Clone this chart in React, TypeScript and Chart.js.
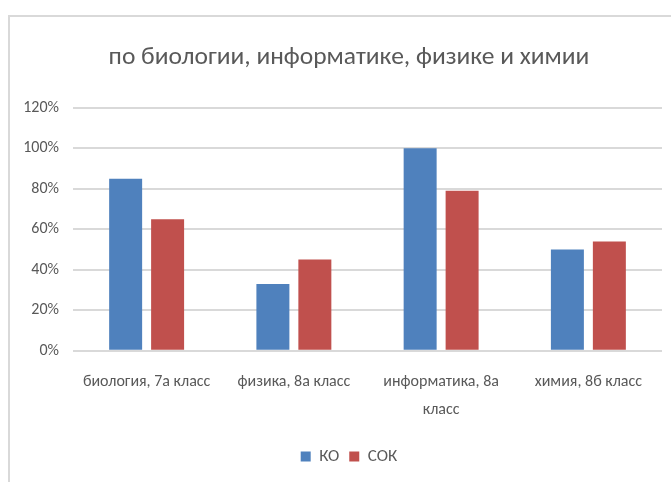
import React, { useEffect, useRef } from "react";
import { Chart, registerables } from "chart.js";

Chart.register(...registerables);

const titleText = "по биологии, информатике, физике и химии";
const categories: (string | string[])[] = [
  "биология, 7а класс",
  "физика, 8а класс",
  ["информатика, 8а", "класс"],
  "химия, 8б класс",
];
const seriesNames = ["КО", "СОК"];
const koValues = [0.85, 0.33, 1.0, 0.5];
const sokValues = [0.65, 0.45, 0.79, 0.54];
const yTicks = [0, 0.2, 0.4, 0.6, 0.8, 1.0, 1.2];

const FONT = "Carlito, 'Liberation Sans Narrow', 'DejaVu Sans Condensed', sans-serif";
const TEXT = "#595959";
const GRID = "#d9d9d9";

// shifts the title and legend boxes so they are centred on the whole chart frame
const centerShift = {
  id: "centerShift",
  afterLayout(chart: any) {
    const dx = 18;
    [chart.titleBlock, chart.legend].forEach((b: any) => {
      if (b) {
        b.left += dx;
        b.right += dx;
      }
    });
  },
};

export default function App() {
  const ref = useRef<HTMLCanvasElement | null>(null);

  useEffect(() => {
    if (!ref.current) return;
    const chart = new Chart(ref.current, {
      type: "bar",
      data: {
        labels: categories,
        datasets: [
          { label: seriesNames[0], data: koValues, backgroundColor: "#4F81BD", borderWidth: 0 },
          { label: seriesNames[1], data: sokValues, backgroundColor: "#C0504D", borderWidth: 0 },
        ],
      },
      plugins: [centerShift],
      options: {
        responsive: false,
        animation: false,
        devicePixelRatio: 1,
        datasets: { bar: { categoryPercentage: 0.57, barPercentage: 0.786 } },
        layout: { padding: { left: 0, right: 9, top: 0, bottom: 7 } },
        plugins: {
          title: {
            display: true,
            text: titleText,
            color: TEXT,
            font: { family: FONT, size: 25.5, weight: "normal" },
            padding: { top: 42.7, bottom: 34.5 },
          },
          legend: {
            display: true,
            position: "bottom",
            labels: {
              color: TEXT,
              font: { family: FONT, size: 17 },
              boxWidth: 10,
              boxHeight: 10,
              padding: 10,
            },
          },
          tooltip: { enabled: false },
        },
        scales: {
          x: {
            grid: { display: false, drawTicks: false },
            border: { display: false },
            ticks: {
              color: TEXT,
              font: { family: FONT, size: 16, lineHeight: 1.7 },
              padding: 18,
              maxRotation: 0,
              autoSkip: false,
            },
            afterFit: (scale: any) => {
              scale.height = 87.3;
            },
          },
          y: {
            min: 0,
            max: 1.2,
            grid: { color: GRID, lineWidth: 2, drawTicks: false },
            border: { display: false },
            afterBuildTicks: (scale: any) => {
              scale.ticks = yTicks.map((v) => ({ value: v }));
            },
            ticks: {
              color: TEXT,
              font: { family: FONT, size: 16 },
              padding: 14,
              callback: (v: any) => Math.round(Number(v) * 100) + "%",
            },
            afterFit: (scale: any) => {
              scale.width = 73;
            },
          },
        },
      },
    });
    return () => chart.destroy();
  }, []);

  return (
    <>
      <div
        style={{
          position: "fixed",
          left: 8,
          top: 15,
          right: 0,
          bottom: 0,
          borderTop: `2px solid ${GRID}`,
          borderLeft: `2px solid ${GRID}`,
        }}
      />
      <canvas
        ref={ref}
        width={671}
        height={482}
        style={{ position: "fixed", left: 0, top: 0, width: 671, height: 482 }}
      />
    </>
  );
}
